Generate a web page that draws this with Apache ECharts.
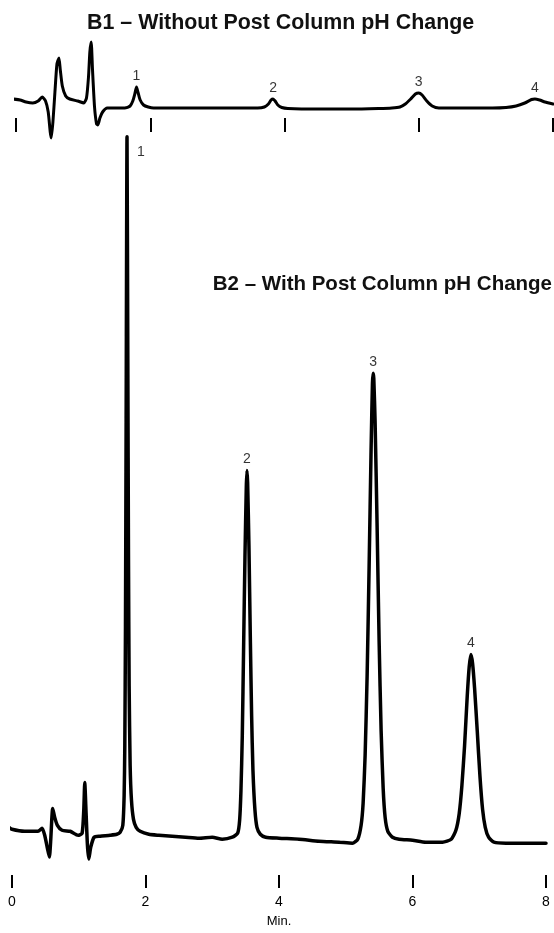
<!DOCTYPE html>
<html><head><meta charset="utf-8">
<script src="https://cdn.jsdelivr.net/npm/echarts@6/dist/echarts.min.js"></script>
<style>html,body{margin:0;padding:0;background:#fff}#c{width:554px;height:933px}</style>
</head><body><div id="c"></div>
<script>
// x-axis ticks (minutes)
const tickMin = [0, 2, 4, 6, 8];
const titleB1 = 'B1 – Without Post Column pH Change';
const titleB2 = 'B2 – With Post Column pH Change';
const axisName = 'Min.';
const peakNames = ['1', '2', '3', '4'];

// B1 trace: time (min) and detector signal (arbitrary units)
const b1Time = [-0.045,0.06,0.15,0.25,0.33,0.39,0.44,0.48,0.51,0.525,0.55,0.58,0.61,0.64,0.66,0.69,0.74,0.80,0.92,1.01,1.05,1.08,1.10,1.12,1.14,1.17,1.20,1.22,1.25,1.29,1.36,1.47,1.62,1.70,1.74,1.77,1.795,1.82,1.85,1.90,1.97,2.05,2.5,3.0,3.4,3.60,3.70,3.76,3.80,3.83,3.86,3.90,3.96,4.05,4.5,5.0,5.4,5.60,5.72,5.80,5.88,5.95,6.00,6.05,6.12,6.20,6.30,6.40,6.8,7.1,7.30,7.45,7.58,7.68,7.73,7.80,7.88,8.00];
const b1Signal = [33,32,30,29,31,35,31,20,0,-6,10,40,68,74,62,46,36,33,31,29,34,55,80,90,62,25,8,7,14,20,24,24,24,26,31,38,45,39,32,27,25,24,24,24,24,24,25,28,32,33,31,27,24.5,23.5,23,23,23.5,24,25,28,33,38,39,37,31,26,24,24,24,24,24.5,26,29,32.5,33,32,30,28];

// B2 trace
const b2Time = [-0.045,0,0.19,0.39,0.45,0.49,0.53,0.56,0.58,0.61,0.64,0.68,0.75,0.87,0.99,1.05,1.075,1.09,1.11,1.13,1.15,1.18,1.23,1.32,1.47,1.57,1.62,1.66,1.68,1.69,1.70,1.71,1.723,1.735,1.745,1.755,1.77,1.79,1.82,1.86,1.92,2.05,2.2,2.4,2.6,2.8,3.0,3.15,3.30,3.38,3.41,3.43,3.45,3.47,3.49,3.51,3.52,3.53,3.55,3.57,3.59,3.61,3.64,3.67,3.72,3.80,4.0,4.3,4.6,4.9,5.10,5.18,5.23,5.26,5.29,5.32,5.35,5.38,5.40,5.41,5.42,5.44,5.47,5.50,5.53,5.56,5.59,5.63,5.70,5.80,6.0,6.2,6.45,6.58,6.65,6.70,6.74,6.78,6.82,6.85,6.876,6.90,6.93,6.97,7.01,7.05,7.09,7.14,7.22,7.40,7.70,8.0];
const b2Signal = [48,46,44,44,47,40,27,18,35,67,58,50,45,44,40,42,65,93,62,30,16,28,38,39,40,41,43,50,80,130,250,460,743,520,320,190,110,75,56,48,44,41,40,39,38,37,38,36,38,42,55,85,140,230,320,390,407,395,330,240,160,105,65,48,41,38,37,36,34,33,32,36,50,72,120,200,310,430,495,505,500,455,350,235,145,88,58,44,38,36,35,33,33,36,45,62,90,130,180,210,222,213,188,145,100,66,48,38,33,32,32,32];

// peak apexes
const b1PeakTime = [1.795, 3.83, 6.00, 7.73];
const b1PeakSignal = [45, 33, 39, 33];
const b2PeakTime = [1.723, 3.52, 5.41, 6.876];
const b2PeakSignal = [743, 407, 505, 222];

const zip = (a, b) => a.map((v, i) => [v, b[i]]);

const SANS = "'Liberation Sans',Arial,sans-serif";

const chart = echarts.init(document.getElementById('c'), null, {renderer: 'canvas'});
const numLabel = {show: true, position: 'top', distance: 4, color: '#000', fontSize: 14, fontFamily: SANS,
  formatter: p => peakNames[p.dataIndex]};

chart.setOption({
  animation: false,
  backgroundColor: '#fff',
  grid: [
    {left: 16, right: 1, top: 32, height: 100},
    {left: 12, right: 8, top: 100, bottom: 53}
  ],
  xAxis: [
    {gridIndex: 0, type: 'value', min: tickMin[0], max: tickMin[tickMin.length - 1], interval: 2,
     axisLine: {show: false}, axisTick: {show: true, inside: true, length: 14, lineStyle: {color: '#000', width: 2}},
     axisLabel: {show: false}, splitLine: {show: false}},
    {gridIndex: 1, type: 'value', min: tickMin[0], max: tickMin[tickMin.length - 1], interval: 2,
     axisLine: {show: false}, axisTick: {show: true, length: 13, lineStyle: {color: '#000', width: 2}},
     axisLabel: {show: true, margin: 20, fontSize: 14, color: '#000', fontFamily: SANS,
       formatter: v => tickMin.includes(v) ? String(v) : ''},
     splitLine: {show: false},
     name: axisName, nameLocation: 'middle', nameGap: 40,
     nameTextStyle: {fontSize: 13, color: '#000', fontFamily: SANS}}
  ],
  yAxis: [
    {gridIndex: 0, type: 'value', min: 0, max: 100, show: false},
    {gridIndex: 1, type: 'value', min: 0, max: 780, show: false}
  ],
  graphic: [
    {type: 'text', left: 87, top: 13, style: {text: titleB1, font: "bold 21.4px " + SANS, fill: '#111'}},
    {type: 'text', right: 2, top: 274, style: {text: titleB2, font: "bold 20.5px " + SANS, fill: '#111'}}
  ],
  series: [
    {type: 'line', xAxisIndex: 0, yAxisIndex: 0, data: zip(b1Time, b1Signal), showSymbol: false,
     smooth: 0.2, clip: false, lineStyle: {color: '#000', width: 3, join: 'round', cap: 'round'}, silent: true},
    {type: 'line', xAxisIndex: 1, yAxisIndex: 1, data: zip(b2Time, b2Signal), showSymbol: false,
     smooth: 0.2, clip: false, lineStyle: {color: '#000', width: 3.5, join: 'round', cap: 'round'}, silent: true},
    {type: 'scatter', xAxisIndex: 0, yAxisIndex: 0, data: zip(b1PeakTime, b1PeakSignal), symbolSize: 0,
     label: numLabel, silent: true},
    {type: 'scatter', xAxisIndex: 1, yAxisIndex: 1, symbolSize: 0, silent: true,
     data: zip(b2PeakTime, b2PeakSignal).map((d, i) => i === 0
       ? {value: d, label: {position: 'right', distance: 10, offset: [0, 15]}} : {value: d}),
     label: numLabel}
  ]
});
</script></body></html>
